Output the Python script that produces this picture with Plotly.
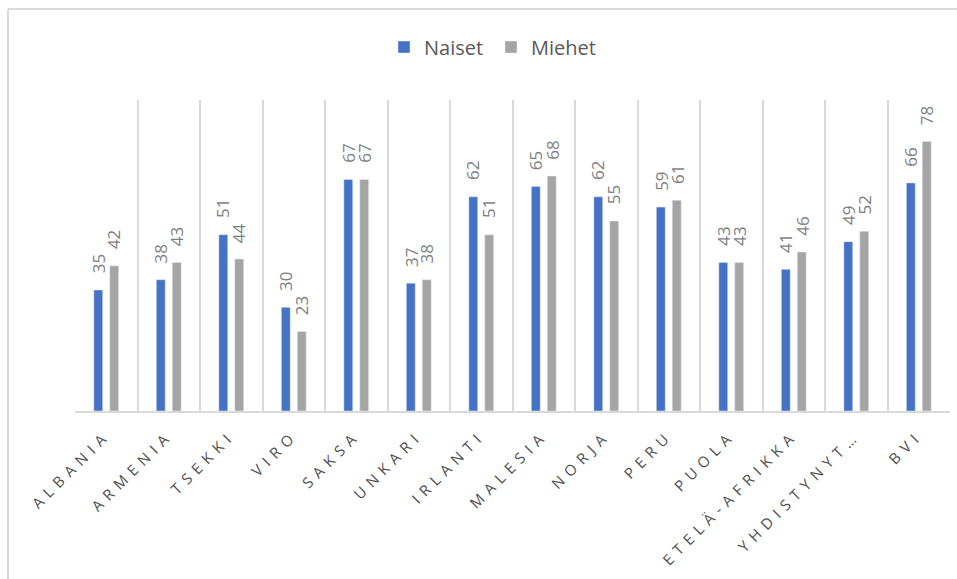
import plotly.graph_objects as go

categories = ["ALBANIA", "ARMENIA", "TSEKKI", "VIRO", "SAKSA", "UNKARI", "IRLANTI",
              "MALESIA", "NORJA", "PERU", "PUOLA", "ETELÄ-AFRIKKA", "YHDISTYNYT…", "BVI"]
naiset = [35, 38, 51, 30, 67, 37, 62, 65, 62, 59, 43, 41, 49, 66]
miehet = [42, 43, 44, 23, 67, 38, 51, 68, 55, 61, 43, 46, 52, 78]

W, H = 957, 579
L, R, T, B = 75, 7, 100, 168
pw, ph = W - L - R, H - T - B

def px_x(x):
    return (x - L) / pw

def px_y(y):
    return (H - B - y) / ph

fig = go.Figure()
fig.add_trace(go.Bar(name="Naiset", x=categories, y=naiset, marker_color="#4472C4"))
fig.add_trace(go.Bar(name="Miehet", x=categories, y=miehet, marker_color="#A5A5A5"))

label_font = dict(family="Open Sans", size=17, color="#7F7F7F")
annotations = []
for series, shift in ((naiset, -8), (miehet, 8)):
    for c, v in zip(categories, series):
        annotations.append(dict(x=c, y=v, xref="x", yref="y", text=str(v), showarrow=False,
                                textangle=-90, xanchor="center", yanchor="middle",
                                xshift=shift, yshift=26, font=label_font))

fig.update_layout(
    width=W, height=H,
    margin=dict(l=L, r=R, t=T, b=B, autoexpand=False),
    paper_bgcolor="white", plot_bgcolor="white",
    barmode="group", bargap=0.49, bargroupgap=0.44,
    font=dict(family="Open Sans", color="#595959"),
    legend=dict(orientation="h", x=px_x(384), xanchor="left", y=px_y(47), yanchor="middle",
                font=dict(size=20, color="#595959"), itemwidth=30, entrywidth=62,
                bgcolor="rgba(0,0,0,0)"),
    showlegend=True,
    annotations=annotations,
)
fig.update_xaxes(
    type="category", tickson="boundaries", showgrid=True, gridcolor="#D9D9D9", gridwidth=1.5,
    showline=True, linecolor="#D9D9D9", linewidth=1.5, ticks="",
    tickangle=-45, tickfont=dict(family="Open Sans", size=15, color="#505050"),
    ticklabelstandoff=8, fixedrange=True,
)
fig.update_yaxes(range=[0, 90], showgrid=False, showticklabels=False, zeroline=False,
                 showline=False, fixedrange=True)

# chart area border (top and left edges visible)
fig.add_shape(type="line", xref="paper", yref="paper", x0=px_x(8), x1=px_x(W + 5),
              y0=px_y(9), y1=px_y(9), line=dict(color="#D9D9D9", width=2))
fig.add_shape(type="line", xref="paper", yref="paper", x0=px_x(8), x1=px_x(8),
              y0=px_y(9), y1=px_y(H + 5), line=dict(color="#D9D9D9", width=2))

post = """
document.body.style.margin='0';
document.querySelectorAll('.xtick text').forEach(function(t){t.style.letterSpacing='6px';});
"""
fig.write_html("out.html", post_script=post, config={"displayModeBar": False})
